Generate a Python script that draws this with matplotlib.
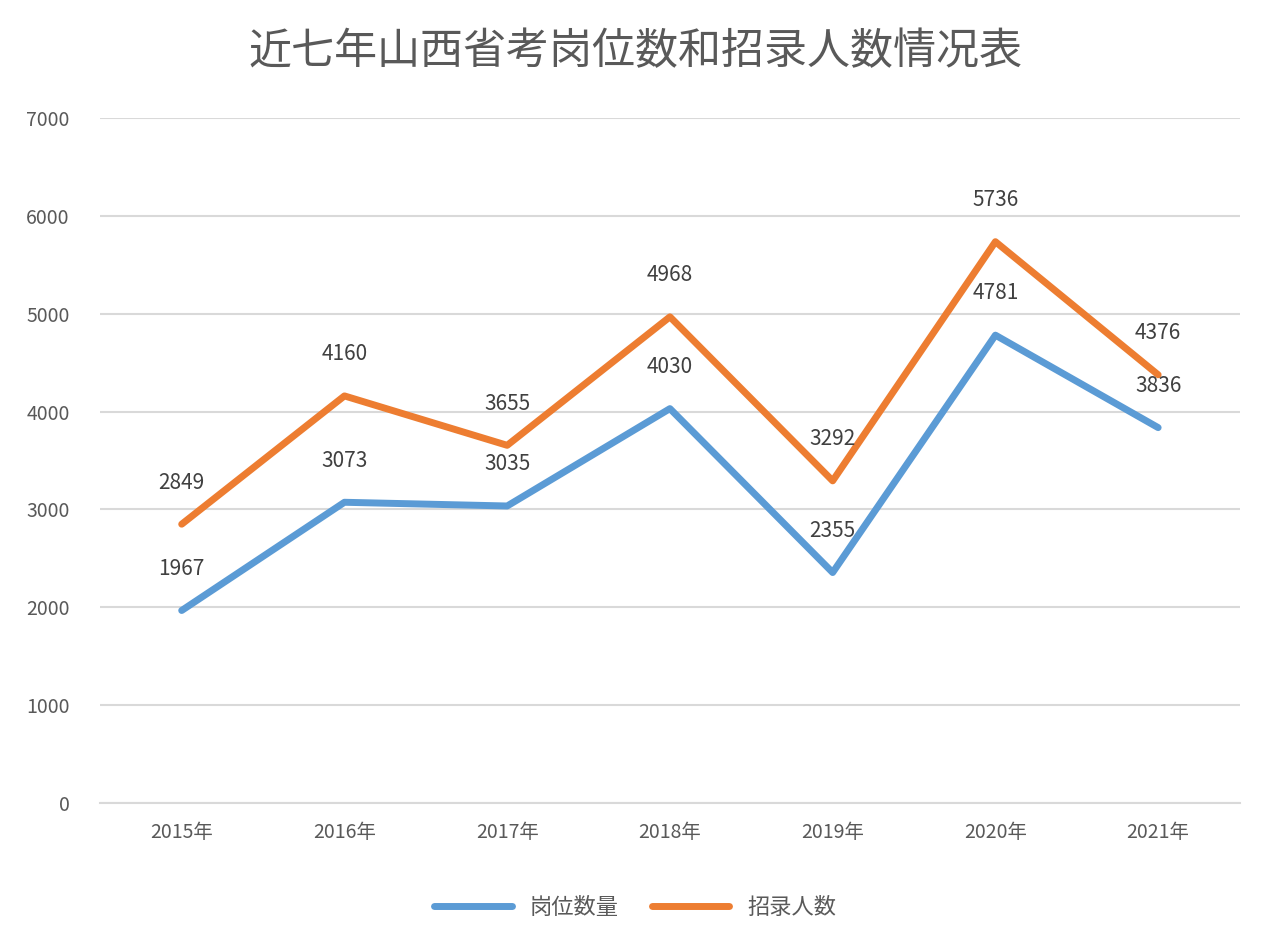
import matplotlib
matplotlib.use("Agg")
import matplotlib.pyplot as plt
from matplotlib import font_manager as fm

names = sorted({f.name for f in fm.fontManager.ttflist if 'CJK' in f.name})
plt.rcParams['font.family'] = 'sans-serif'
plt.rcParams['font.sans-serif'] = names + ['DejaVu Sans']

years = ["2015年", "2016年", "2017年", "2018年", "2019年", "2020年", "2021年"]
posts = [1967, 3073, 3035, 4030, 2355, 4781, 3836]
hires = [2849, 4160, 3655, 4968, 3292, 5736, 4376]

fig = plt.figure(figsize=(12.7, 9.48), dpi=100)
ax = fig.add_axes([0.079, 0.153, 0.897, 0.7225])
x = list(range(len(years)))
ax.plot(x, posts, color="#5B9BD5", lw=5, label="岗位数量", solid_capstyle='round')
ax.plot(x, hires, color="#ED7D31", lw=5, label="招录人数", solid_capstyle='round')
for xi, v in zip(x, posts):
    ax.annotate(str(v), (xi, v), xytext=(0, 30), textcoords="offset points", ha="center", va="center", fontsize=15, color="#404040")
for xi, v in zip(x, hires):
    ax.annotate(str(v), (xi, v), xytext=(0, 30), textcoords="offset points", ha="center", va="center", fontsize=15, color="#404040")
ax.set_xlim(-0.5, 6.5)
ax.set_ylim(0, 7000)
ax.set_yticks(range(0, 7001, 1000))
ax.set_xticks(x)
ax.set_xticklabels(years)
ax.grid(axis="y", color="#D9D9D9", lw=1.5)
ax.set_axisbelow(True)
for s in ["top", "right", "left"]:
    ax.spines[s].set_visible(False)
ax.spines["bottom"].set_color("#D9D9D9")
ax.spines["bottom"].set_linewidth(1.5)
ax.tick_params(length=0, labelsize=14, colors="#595959", pad=14)
ax.tick_params(axis='y', pad=22)
fig.text(0.5, 0.945, "近七年山西省考岗位数和招录人数情况表", ha="center", va="center", fontsize=31, color="#595959")
fig.legend(loc="center", bbox_to_anchor=(0.5, 0.043), ncol=2, frameon=False, fontsize=16, handlelength=3.5, columnspacing=1.5, labelcolor="#595959")
fig.savefig("out.png", dpi=100)
